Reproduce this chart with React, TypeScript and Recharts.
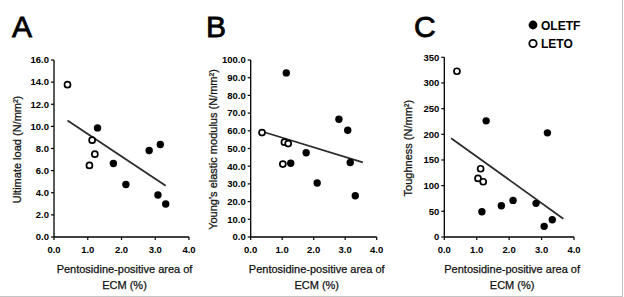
import React from "react";
import { ScatterChart, Scatter, XAxis, YAxis, ReferenceLine, Label } from "recharts";

const FONT = '"Liberation Sans", Arial, Helvetica, sans-serif';

// shared x axis
const xTicks = [0, 1, 2, 3, 4];
const xTitle1 = "Pentosidine-positive area of";
const xTitle2 = "ECM (%)";
const seriesNames = ["OLETF", "LETO"];
const panelLetters = ["A", "B", "C"];

// Panel A: Ultimate load
const yTitleA = "Ultimate load (N/mm²)";
const yTicksA = [0, 2, 4, 6, 8, 10, 12, 14, 16];
const oletfAx = [1.29, 1.76, 2.13, 2.82, 3.15, 3.08, 3.31];
const oletfAy = [9.86, 6.65, 4.75, 7.82, 8.36, 3.79, 2.98];
const letoAx = [0.4, 1.13, 1.21, 1.05];
const letoAy = [13.77, 8.75, 7.49, 6.47];
const trendAx = [0.4, 3.31];
const trendAy = [10.53, 4.63];

// Panel B: Young's elastic modulus
const yTitleB = "Young's elastic modulus (N/mm²)";
const yTicksB = [0, 10, 20, 30, 40, 50, 60, 70, 80, 90, 100];
const oletfBx = [1.13, 1.27, 1.76, 2.11, 2.8, 3.08, 3.16, 3.32];
const oletfBy = [92.7, 41.7, 47.6, 30.5, 66.5, 60.3, 42.1, 23.3];
const letoBx = [0.36, 1.07, 1.19, 1.02];
const letoBy = [59.0, 53.6, 52.8, 41.2];
const trendBx = [0.36, 3.56];
const trendBy = [59.6, 42.1];

// Panel C: Toughness
const yTitleC = "Toughness (N/mm²)";
const yTicksC = [0, 50, 100, 150, 200, 250, 300, 350];
const oletfCx = [1.29, 3.18, 1.16, 1.76, 2.12, 2.83, 3.08, 3.33];
const oletfCy = [226.2, 202.9, 49.3, 60.9, 71.3, 65.5, 20.7, 33.7];
const letoCx = [0.39, 1.12, 1.04, 1.2];
const letoCy = [322.8, 132.9, 114.1, 107.6];
const trendCx = [0.21, 3.67];
const trendCy = [192.5, 35.6];

const toPts = (xs: number[], ys: number[]) => xs.map((x, i) => ({ x, y: ys[i] }));

const W = 624;
const H = 297;

const FilledDot = (p: any) =>
  p.cx == null ? null : <circle cx={p.cx} cy={p.cy} r={3.7} fill="#000" />;
const OpenDot = (p: any) =>
  p.cx == null ? null : (
    <circle cx={p.cx} cy={p.cy} r={3.0} fill="#fff" stroke="#000" strokeWidth={1.7} />
  );

const tickStyle = { fill: "#000", fontSize: 9.5, fontWeight: 700, fontFamily: FONT };
const titleProps = { fontSize: 11, fontFamily: FONT, fill: "#111", stroke: "#111", strokeWidth: 0.25 };

type PanelProps = {
  plotLeft: number;
  plotRight: number;
  plotTop: number;
  yTitle: string;
  yTicks: number[];
  yDigits: number;
  titleGap: number;
  oletf: { x: number; y: number }[];
  leto: { x: number; y: number }[];
  trendX: number[];
  trendY: number[];
};

function Panel(props: PanelProps) {
  const { plotLeft, plotRight, plotTop, yTitle, yTicks, yDigits, titleGap, oletf, leto, trendX, trendY } = props;
  const yAxisW = 54;
  const xAxisH = 60;
  const yMax = yTicks[yTicks.length - 1];
  return (
    <div style={{ position: "absolute", left: 0, top: 0, width: W, height: H }}>
      <ScatterChart
        width={W}
        height={H}
        margin={{ top: plotTop, right: W - plotRight, bottom: 0, left: plotLeft - yAxisW }}
      >
        <XAxis
          type="number"
          dataKey="x"
          domain={[0, 4]}
          ticks={xTicks}
          tickFormatter={(v: number) => v.toFixed(1)}
          height={xAxisH}
          tickSize={3}
          tickMargin={6}
          interval={0}
          axisLine={{ stroke: "#000", strokeWidth: 1.3 }}
          tickLine={{ stroke: "#000", strokeWidth: 1.2 }}
          tick={tickStyle}
        >
          <Label
            content={(lp: any) => {
              const vb = lp.viewBox || { x: 0, y: 0, width: 0 };
              const cx = vb.x + vb.width / 2 + 3;
              return (
                <g>
                  <text x={cx} y={vb.y + 35.5} textAnchor="middle" {...titleProps}>
                    {xTitle1}
                  </text>
                  <text x={cx} y={vb.y + 52} textAnchor="middle" {...titleProps}>
                    {xTitle2}
                  </text>
                </g>
              );
            }}
          />
        </XAxis>
        <YAxis
          type="number"
          dataKey="y"
          domain={[0, yMax]}
          ticks={yTicks}
          tickFormatter={(v: number) => v.toFixed(yDigits)}
          width={yAxisW}
          tickSize={3}
          tickMargin={2}
          interval={0}
          axisLine={{ stroke: "#000", strokeWidth: 1.3 }}
          tickLine={{ stroke: "#000", strokeWidth: 1.2 }}
          tick={tickStyle}
        >
          <Label
            content={(lp: any) => {
              const vb = lp.viewBox || { x: 0, y: 0, width: 0, height: 0 };
              const cx = vb.x + vb.width - titleGap;
              const cy = vb.y + vb.height / 2 + 1;
              return (
                <text
                  x={cx}
                  y={cy}
                  transform={`rotate(-90 ${cx} ${cy})`}
                  textAnchor="middle"
                  dominantBaseline="central"
                  {...titleProps}
                >
                  {yTitle}
                </text>
              );
            }}
          />
        </YAxis>
        <ReferenceLine
          segment={[
            { x: trendX[0], y: trendY[0] },
            { x: trendX[1], y: trendY[1] },
          ]}
          stroke="#2b2b2b"
          strokeWidth={1.8}
          ifOverflow="visible"
        />
        <Scatter name={seriesNames[0]} data={oletf} shape={FilledDot} isAnimationActive={false} />
        <Scatter name={seriesNames[1]} data={leto} shape={OpenDot} isAnimationActive={false} />
      </ScatterChart>
    </div>
  );
}

export default function App() {
  return (
    <div
      style={{
        position: "absolute",
        left: 0,
        top: 0,
        width: 623,
        height: 297,
        background: "#fff",
        borderRight: "1px solid #c4c4c4",
        borderBottom: "1px solid #c4c4c4",
        boxSizing: "border-box",
        overflow: "hidden",
      }}
    >
      <Panel
        plotLeft={54}
        plotRight={189}
        plotTop={60}
        yTitle={yTitleA}
        yTicks={yTicksA}
        yDigits={1}
        titleGap={37}
        oletf={toPts(oletfAx, oletfAy)}
        leto={toPts(letoAx, letoAy)}
        trendX={trendAx}
        trendY={trendAy}
      />
      <Panel
        plotLeft={250.7}
        plotRight={376.7}
        plotTop={60}
        yTitle={yTitleB}
        yTicks={yTicksB}
        yDigits={1}
        titleGap={37.5}
        oletf={toPts(oletfBx, oletfBy)}
        leto={toPts(letoBx, letoBy)}
        trendX={trendBx}
        trendY={trendBy}
      />
      <Panel
        plotLeft={444.3}
        plotRight={574}
        plotTop={57.3}
        yTitle={yTitleC}
        yTicks={yTicksC}
        yDigits={0}
        titleGap={36}
        oletf={toPts(oletfCx, oletfCy)}
        leto={toPts(letoCx, letoCy)}
        trendX={trendCx}
        trendY={trendCy}
      />
      <svg
        width={W}
        height={H}
        style={{ position: "absolute", left: 0, top: 0, pointerEvents: "none" }}
      >
        <text x={12} y={37} fontSize={30} fontFamily={FONT} fill="#000" stroke="#000" strokeWidth={0.8}>{panelLetters[0]}</text>
        <text x={206} y={37} fontSize={30} fontFamily={FONT} fill="#000" stroke="#000" strokeWidth={0.8}>{panelLetters[1]}</text>
        <text x={414} y={37} fontSize={30} fontFamily={FONT} fill="#000" stroke="#000" strokeWidth={0.8}>{panelLetters[2]}</text>
        <circle cx={533} cy={25} r={4.4} fill="#000" />
        <text x={541} y={29.5} fontSize={12} fontWeight={700} fontFamily={FONT} fill="#000">{seriesNames[0]}</text>
        <circle cx={533} cy={43.5} r={3.7} fill="#fff" stroke="#000" strokeWidth={1.8} />
        <text x={541} y={48} fontSize={12} fontWeight={700} fontFamily={FONT} fill="#000">{seriesNames[1]}</text>
      </svg>
    </div>
  );
}
